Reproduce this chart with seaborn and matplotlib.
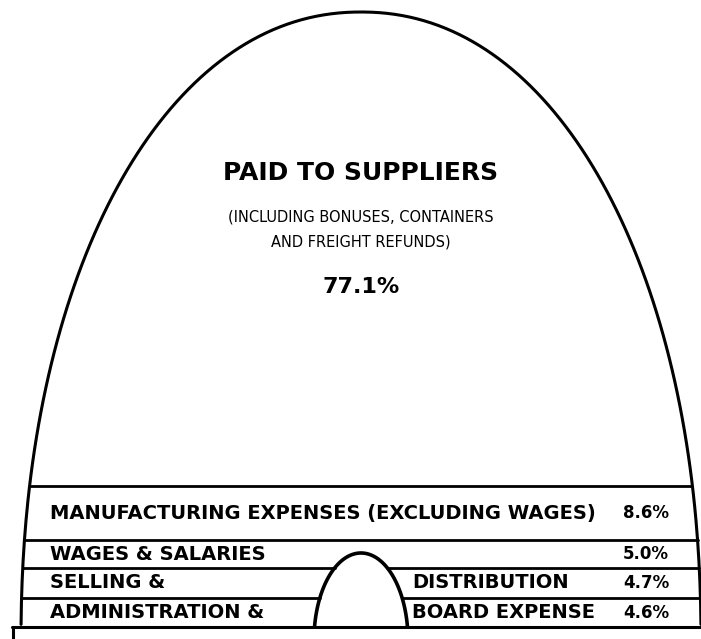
import numpy as np
import pandas as pd
import seaborn as sns
import matplotlib.pyplot as plt

# values
main_label = 'PAID TO SUPPLIERS'
main_note = ['(INCLUDING BONUSES, CONTAINERS', 'AND FREIGHT REFUNDS)']
main_value = 77.1

band_left = ['MANUFACTURING EXPENSES (EXCLUDING WAGES)', 'WAGES & SALARIES',
             'SELLING &', 'ADMINISTRATION &']
band_right = ['', '', 'DISTRIBUTION', 'BOARD EXPENSE']
band_values = [8.6, 5.0, 4.7, 4.6]

# layout (pixels, y going down)
W, H = 701, 639
CX = 361
DOME_CY, DOME_A, DOME_B, DOME_N = 640, 340, 628, 2.1
ARCH_CY, ARCH_A, ARCH_B, ARCH_N = 640, 47, 87, 2.0
band_edges = [486, 540, 568, 598, 627]


def half_width(y, a, b, cy, n):
    u = abs((cy - y) / b)
    if u >= 1:
        return 0.0
    return a * (1 - u ** n) ** (1 / n)


def outline(a, b, cy, n, y_base, npts=300):
    # superellipse from the left foot over the top to the right foot
    t0 = np.arcsin((cy - y_base) / b)
    t = np.linspace(t0, np.pi - t0, npts)
    c, s = np.cos(t), np.sin(t)
    x = CX - a * np.sign(c) * np.abs(c) ** (2 / n)
    y = cy - b * np.abs(s) ** (2 / n)
    return pd.DataFrame({'x': x, 'y': y})


def seg(ax, x0, x1, y, lw=2.0):
    d = pd.DataFrame({'x': [x0, x1], 'y': [y, y]})
    sns.lineplot(data=d, x='x', y='y', sort=False, estimator=None,
                 color='black', lw=lw, ax=ax)


sns.set_style('white')
plt.rcParams['font.family'] = ['DejaVu Sans']

fig = plt.figure(figsize=(W / 100, H / 100), dpi=100)
ax = fig.add_axes([0, 0, 1, 1])

bottom = band_edges[-1]
dome = outline(DOME_A, DOME_B, DOME_CY, DOME_N, bottom)
sns.lineplot(data=dome, x='x', y='y', sort=False, estimator=None,
             color='black', lw=2.2, ax=ax)
arch = outline(ARCH_A, ARCH_B, ARCH_CY, ARCH_N, bottom, npts=120)
sns.lineplot(data=arch, x='x', y='y', sort=False, estimator=None,
             color='black', lw=2.6, ax=ax)

# band separators, broken by the small arch where they cross it
for y in band_edges[:-1]:
    hw = half_width(y, DOME_A, DOME_B, DOME_CY, DOME_N)
    aw = half_width(y, ARCH_A, ARCH_B, ARCH_CY, ARCH_N)
    if aw > 0:
        seg(ax, CX - hw, CX - aw, y)
        seg(ax, CX + aw, CX + hw, y)
    else:
        seg(ax, CX - hw, CX + hw, y)

# bottom box
seg(ax, 12, W + 5, bottom, lw=2.2)
d = pd.DataFrame({'x': [13, 13], 'y': [bottom, H + 5]})
sns.lineplot(data=d, x='x', y='y', sort=False, estimator=None,
             color='black', lw=2.2, ax=ax)

# main text
ax.text(CX, 173, main_label, ha='center', va='center', fontsize=18,
        fontweight='bold', color='black')
ax.text(CX, 217, main_note[0], ha='center', va='center', fontsize=10.5,
        color='black')
ax.text(CX, 242, main_note[1], ha='center', va='center', fontsize=10.5,
        color='black')
ax.text(CX, 287, f'{main_value:.1f}%', ha='center', va='center',
        fontsize=16, fontweight='bold', color='black')

# band texts
for i in range(len(band_values)):
    yc = (band_edges[i] + band_edges[i + 1]) / 2
    ax.text(50, yc, band_left[i], ha='left', va='center', fontsize=14,
            fontweight='bold', color='black')
    if band_right[i]:
        ax.text(412, yc, band_right[i], ha='left', va='center', fontsize=14,
                fontweight='bold', color='black')
    ax.text(669, yc, f'{band_values[i]:.1f}%', ha='right', va='center',
            fontsize=12, fontweight='bold', color='black')

ax.set_xlim(0, W)
ax.set_ylim(H, 0)
ax.axis('off')
if ax.get_legend():
    ax.get_legend().remove()

fig.savefig('out.png', dpi=100, facecolor='white')
plt.close(fig)
